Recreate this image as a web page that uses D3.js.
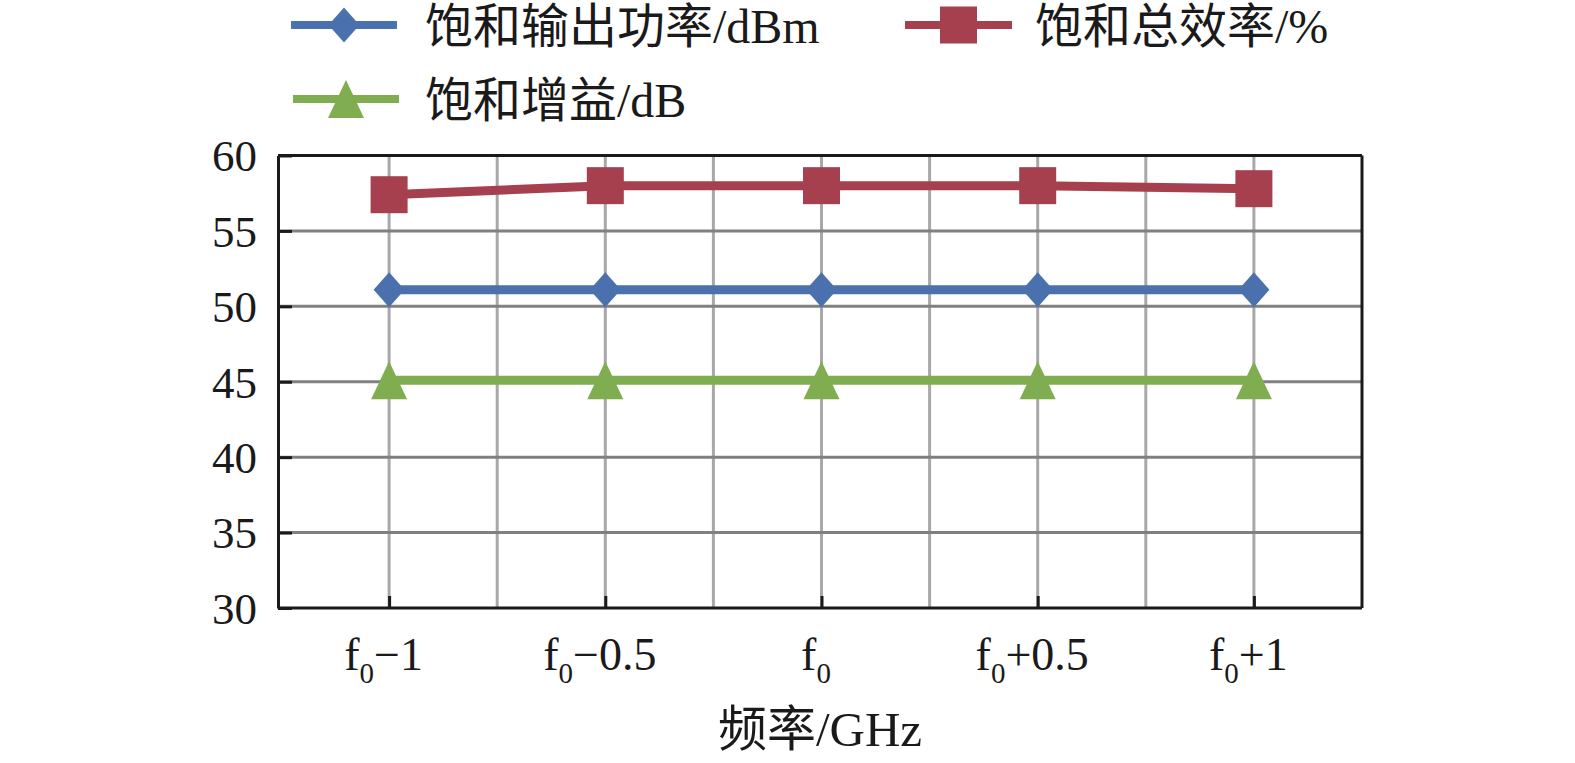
<!DOCTYPE html>
<html><head><meta charset="utf-8">
<script src="https://cdn.jsdelivr.net/npm/d3@7"></script>
<style>
html,body{margin:0;padding:0;background:#fff;}
svg{display:block;}
text{font-family:"Liberation Serif","Times New Roman","Noto Sans CJK SC",serif;fill:#1a1a1a;}
</style></head>
<body>
<script>
const categories = ["f0−1", "f0−0.5", "f0", "f0+0.5", "f0+1"];
const yTicks = [30, 35, 40, 45, 50, 55, 60];
const powerOut = [51.1, 51.1, 51.1, 51.1, 51.1];      // 饱和输出功率/dBm
const efficiency = [57.4, 58.0, 58.0, 58.0, 57.8];   // 饱和总效率/%
const gain = [45.1, 45.1, 45.1, 45.1, 45.1];         // 饱和增益/dB
const seriesNames = ["饱和输出功率/dBm", "饱和总效率/%", "饱和增益/dB"];
const xTitle = "频率/GHz";

const W = 1575, H = 763;
const svg = d3.select("body").append("svg").attr("width", W).attr("height", H);

const pL = 278, pR = 1362, pT = 155.5, pB = 608;
const x = d3.scalePoint().domain(categories).range([281, 1362]).padding(0.5);
const y = d3.scaleLinear().domain([30, 60]).range([pB, pT]);
const step = x.step();

const colors = {blue: "#4a71ad", red: "#a6404f", green: "#80ad50"};

// vertical gridlines (at categories and midpoints)
const vgrid = [];
categories.forEach((c, i) => {
  vgrid.push(x(c));
  if (i < categories.length - 1) vgrid.push(x(c) + step / 2);
});
svg.append("g").selectAll("line").data(vgrid).join("line")
  .attr("x1", d => d).attr("x2", d => d)
  .attr("y1", pT).attr("y2", pB)
  .attr("stroke", "#a8a8a8").attr("stroke-width", 3);

// horizontal gridlines
svg.append("g").selectAll("line").data(yTicks.filter(t => t > 30 && t < 60)).join("line")
  .attr("x1", pL).attr("x2", pR)
  .attr("y1", d => y(d)).attr("y2", d => y(d))
  .attr("stroke", "#808080").attr("stroke-width", 3);

// frame top & right
svg.append("line").attr("x1", pL).attr("x2", pR).attr("y1", pT).attr("y2", pT)
  .attr("stroke", "#1a1a1a").attr("stroke-width", 3);
svg.append("line").attr("x1", pR).attr("x2", pR).attr("y1", pT).attr("y2", pB)
  .attr("stroke", "#1a1a1a").attr("stroke-width", 3);

// y axis
const yAxis = svg.append("g").attr("transform", `translate(${pL},0)`)
  .call(d3.axisLeft(y).tickValues(yTicks).tickSize(-14).tickSizeOuter(0).tickPadding(21));
yAxis.select(".domain").attr("stroke", "#1a1a1a").attr("stroke-width", 3);
yAxis.selectAll(".tick line").attr("stroke", "#1a1a1a").attr("stroke-width", 3);
yAxis.selectAll(".tick text").attr("font-size", 45).attr("dy", "0.34em")
  .attr("font-family", "Liberation Serif").attr("fill", "#1a1a1a");

// x axis
const xAxis = svg.append("g").attr("transform", `translate(0,${pB})`)
  .call(d3.axisBottom(x).tickSize(-12).tickSizeOuter(0).tickFormat(""));
xAxis.select(".domain").attr("d", `M${pL},0H${pR}`).attr("stroke", "#1a1a1a").attr("stroke-width", 3);
xAxis.selectAll(".tick line").attr("stroke", "#1a1a1a").attr("stroke-width", 3);
xAxis.selectAll(".tick").each(function(d) {
  const t = d3.select(this).append("text").attr("y", 62).attr("x", -6)
    .attr("text-anchor", "middle").attr("font-size", 46).attr("fill", "#1a1a1a");
  t.append("tspan").text(d[0]);
  t.append("tspan").text(d[1]).attr("font-size", 29).attr("dy", 13);
  if (d.length > 2) t.append("tspan").text(d.slice(2)).attr("dy", -13);
});

// x title
svg.append("text").attr("x", (pL + pR) / 2).attr("y", 746).attr("text-anchor", "middle")
  .attr("font-size", 49).text(xTitle);

// markers
function diamond(g, cx, cy, color, w = 31, h = 35) {
  g.append("path").attr("d", `M${cx},${cy - h/2}L${cx + w/2},${cy}L${cx},${cy + h/2}L${cx - w/2},${cy}Z`).attr("fill", color);
}
function square(g, cx, cy, color, s = 37) {
  g.append("rect").attr("x", cx - s/2).attr("y", cy - s/2).attr("width", s).attr("height", s).attr("fill", color);
}
function triangle(g, cx, cy, color, w = 36, h = 38) {
  g.append("path").attr("d", `M${cx},${cy - h/2}L${cx + w/2},${cy + h/2}L${cx - w/2},${cy + h/2}Z`).attr("fill", color);
}

const line = d3.line().x((d, i) => x(categories[i])).y(d => y(d));
const series = [
  {vals: efficiency, color: colors.red, mk: square},
  {vals: powerOut, color: colors.blue, mk: diamond},
  {vals: gain, color: colors.green, mk: triangle}
];
series.forEach(s => {
  const g = svg.append("g");
  g.append("path").attr("d", line(s.vals)).attr("fill", "none")
    .attr("stroke", s.color).attr("stroke-width", 9);
  s.vals.forEach((v, i) => s.mk(g, x(categories[i]), y(v), s.color));
});

// legend
const legend = [
  {name: seriesNames[0], color: colors.blue, mk: diamond, x0: 291, x1: 397, cy: 25, tx: 425},
  {name: seriesNames[1], color: colors.red, mk: square, x0: 905, x1: 1012, cy: 25, tx: 1035},
  {name: seriesNames[2], color: colors.green, mk: triangle, x0: 293, x1: 399, cy: 99, tx: 425}
];
legend.forEach(l => {
  const g = svg.append("g");
  g.append("line").attr("x1", l.x0).attr("x2", l.x1).attr("y1", l.cy).attr("y2", l.cy)
    .attr("stroke", l.color).attr("stroke-width", 8);
  l.mk(g, (l.x0 + l.x1) / 2, l.cy, l.color);
  g.append("text").attr("x", l.tx).attr("y", l.cy + 18).attr("font-size", 48).text(l.name);
});
</script>
</body></html>
